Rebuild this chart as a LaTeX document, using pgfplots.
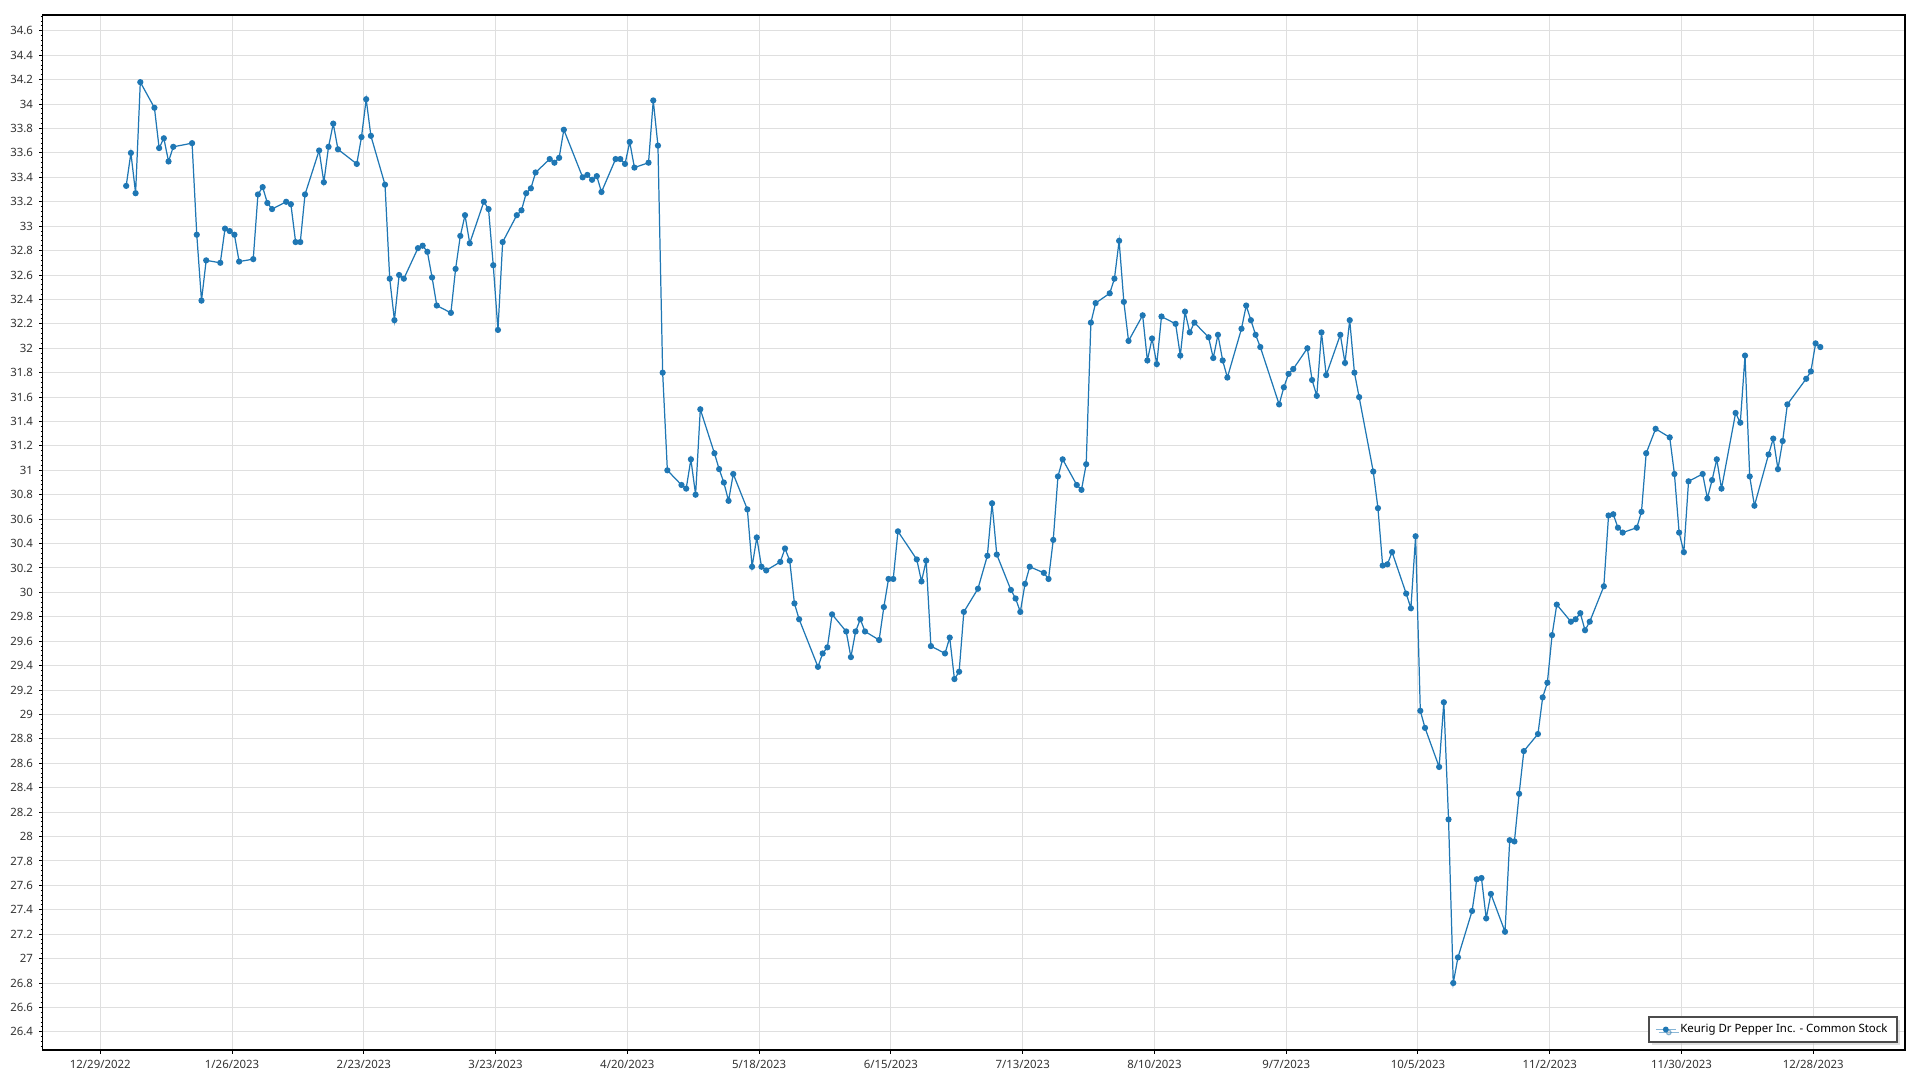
\documentclass[border=0pt]{standalone}
\usepackage{pgfplots}
\pgfplotsset{compat=1.18}
\usepackage{fontspec}
\setmainfont{Noto Sans}
\usetikzlibrary{shadows}
\definecolor{kdpblue}{RGB}{31,119,180}
\definecolor{ticktext}{RGB}{51,51,51}

% x = days after 12/29/2022
\pgfplotstableread{
day close
5.5 33.33
6.5 33.60
7.5 33.27
8.5 34.18
11.5 33.97
12.5 33.64
13.5 33.72
14.5 33.53
15.5 33.65
19.5 33.68
20.5 32.93
21.5 32.39
22.5 32.72
25.5 32.70
26.5 32.98
27.5 32.96
28.5 32.93
29.5 32.71
32.5 32.73
33.5 33.26
34.5 33.32
35.5 33.19
36.5 33.14
39.5 33.20
40.5 33.18
41.5 32.87
42.5 32.87
43.5 33.26
46.5 33.62
47.5 33.36
48.5 33.65
49.5 33.84
50.5 33.63
54.5 33.51
55.5 33.73
56.5 34.04
57.5 33.74
60.5 33.34
61.5 32.57
62.5 32.23
63.5 32.60
64.5 32.57
67.5 32.82
68.5 32.84
69.5 32.79
70.5 32.58
71.5 32.35
74.5 32.29
75.5 32.65
76.5 32.92
77.5 33.09
78.5 32.86
81.5 33.20
82.5 33.14
83.5 32.68
84.5 32.15
85.5 32.87
88.5 33.09
89.5 33.13
90.5 33.27
91.5 33.31
92.5 33.44
95.5 33.55
96.5 33.52
97.5 33.56
98.5 33.79
102.5 33.40
103.5 33.42
104.5 33.38
105.5 33.41
106.5 33.28
109.5 33.55
110.5 33.55
111.5 33.51
112.5 33.69
113.5 33.48
116.5 33.52
117.5 34.03
118.5 33.66
119.5 31.80
120.5 31.00
123.5 30.88
124.5 30.85
125.5 31.09
126.5 30.80
127.5 31.50
130.5 31.14
131.5 31.01
132.5 30.90
133.5 30.75
134.5 30.97
137.5 30.68
138.5 30.21
139.5 30.45
140.5 30.21
141.5 30.18
144.5 30.25
145.5 30.36
146.5 30.26
147.5 29.91
148.5 29.78
152.5 29.39
153.5 29.50
154.5 29.55
155.5 29.82
158.5 29.68
159.5 29.47
160.5 29.68
161.5 29.78
162.5 29.68
165.5 29.61
166.5 29.88
167.5 30.11
168.5 30.11
169.5 30.50
173.5 30.27
174.5 30.09
175.5 30.26
176.5 29.56
179.5 29.50
180.5 29.63
181.5 29.29
182.5 29.35
183.5 29.84
186.5 30.03
188.5 30.30
189.5 30.73
190.5 30.31
193.5 30.02
194.5 29.95
195.5 29.84
196.5 30.07
197.5 30.21
200.5 30.16
201.5 30.11
202.5 30.43
203.5 30.95
204.5 31.09
207.5 30.88
208.5 30.84
209.5 31.05
210.5 32.21
211.5 32.37
214.5 32.45
215.5 32.57
216.5 32.88
217.5 32.38
218.5 32.06
221.5 32.27
222.5 31.90
223.5 32.08
224.5 31.87
225.5 32.26
228.5 32.20
229.5 31.94
230.5 32.30
231.5 32.13
232.5 32.21
235.5 32.09
236.5 31.92
237.5 32.11
238.5 31.90
239.5 31.76
242.5 32.16
243.5 32.35
244.5 32.23
245.5 32.11
246.5 32.01
250.5 31.54
251.5 31.68
252.5 31.79
253.5 31.83
256.5 32.00
257.5 31.74
258.5 31.61
259.5 32.13
260.5 31.78
263.5 32.11
264.5 31.88
265.5 32.23
266.5 31.80
267.5 31.60
270.5 30.99
271.5 30.69
272.5 30.22
273.5 30.23
274.5 30.33
277.5 29.99
278.5 29.87
279.5 30.46
280.5 29.03
281.5 28.89
284.5 28.57
285.5 29.10
286.5 28.14
287.5 26.80
288.5 27.01
291.5 27.39
292.5 27.65
293.5 27.66
294.5 27.33
295.5 27.53
298.5 27.22
299.5 27.97
300.5 27.96
301.5 28.35
302.5 28.70
305.5 28.84
306.5 29.14
307.5 29.26
308.5 29.65
309.5 29.90
312.5 29.76
313.5 29.78
314.5 29.83
315.5 29.69
316.5 29.76
319.5 30.05
320.5 30.63
321.5 30.64
322.5 30.53
323.5 30.49
326.5 30.53
327.5 30.66
328.5 31.14
330.5 31.34
333.5 31.27
334.5 30.97
335.5 30.49
336.5 30.33
337.5 30.91
340.5 30.97
341.5 30.77
342.5 30.92
343.5 31.09
344.5 30.85
347.5 31.47
348.5 31.39
349.5 31.94
350.5 30.95
351.5 30.71
354.5 31.13
355.5 31.26
356.5 31.01
357.5 31.24
358.5 31.54
362.5 31.75
363.5 31.81
364.5 32.04
365.5 32.01
}\kdp

\begin{document}
\begin{tikzpicture}
\begin{axis}[
  scale only axis,
  width=37.24cm, height=20.7cm,
  xmin=-12.24, xmax=383.5,
  ymin=26.25, ymax=34.73,
  xtick={0,28,...,364},
  xticklabels={12/29/2022,1/26/2023,2/23/2023,3/23/2023,4/20/2023,5/18/2023,6/15/2023,7/13/2023,8/10/2023,9/7/2023,10/5/2023,11/2/2023,11/30/2023,12/28/2023},
  ytick distance=0.2,
  minor y tick num=4,
  tick pos=left,
  tick align=outside,
  major tick length=0.07cm,
  minor tick length=0.04cm,
  grid=major,
  major grid style={gray!25, line width=0.02cm},
  axis line style={black, line width=0.03cm},
  tick style={black, line width=0.02cm},
  every tick label/.append style={font=\fontsize{6.5}{8}\selectfont, text=ticktext},
  /pgf/number format/assume math mode=true,
  legend style={at={(1,0)}, anchor=south east, xshift=-0.14cm, yshift=0.14cm,
    draw=gray!60!black, line width=0.04cm, fill=white,
    font=\fontsize{6.5}{8}\selectfont,
    drop shadow={shadow xshift=0.06cm, shadow yshift=-0.06cm, fill=gray!45},
    inner xsep=0.12cm, inner ysep=0.07cm},
  legend cell align=left,
  legend image code/.code={
    \draw[kdpblue!55, line width=1.1pt] (0cm,0cm) -- (0.4cm,0cm);
    \fill[kdpblue] (0.2cm,0cm) circle (1.3pt);},
]
\addplot[kdpblue, line width=0.7pt, mark=*, mark size=1.4pt,
  mark options={fill=kdpblue, draw=kdpblue}] table[x=day, y=close] {\kdp};
\addlegendentry{Keurig Dr Pepper Inc. - Common Stock}
\end{axis}
\pgfresetboundingbox
\path[use as bounding box] ([xshift=-0.854cm,yshift=-0.6cm]current axis.south west) rectangle ([xshift=0.3cm,yshift=0.3cm]current axis.north east);
\end{tikzpicture}
\end{document}
